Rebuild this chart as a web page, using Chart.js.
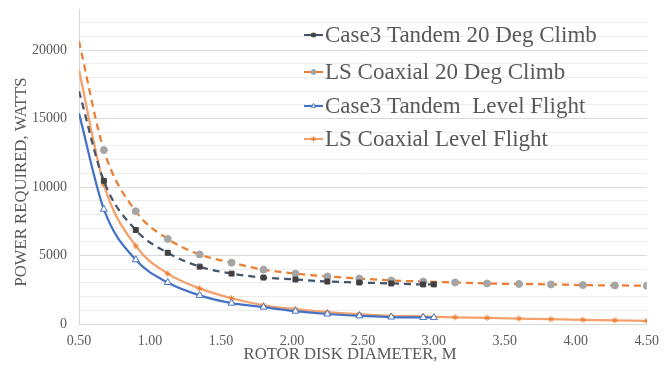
<!DOCTYPE html>
<html>
<head>
<meta charset="utf-8">
<script src="https://cdn.jsdelivr.net/npm/chart.js@4/dist/chart.umd.min.js"></script>
<style>
  html, body { margin: 0; padding: 0; background: #ffffff; }
  #wrap { width: 668px; height: 369px; position: relative; }
</style>
</head>
<body>
<div id="wrap"><canvas id="powerCanvas" width="668" height="369"></canvas></div>
<script>
// rotor disk diameters (m)
const diamTandem = [0.5, 0.675, 0.9, 1.125, 1.35, 1.575, 1.8, 2.025, 2.25, 2.475, 2.7, 2.925, 3.0];
const diamCoaxial = [0.5, 0.675, 0.9, 1.125, 1.35, 1.575, 1.8, 2.025, 2.25, 2.475, 2.7, 2.925, 3.15, 3.375, 3.6, 3.825, 4.05, 4.275, 4.5];

// power required (W)
const tandemClimb = [17000, 10450, 6860, 5200, 4190, 3680, 3390, 3250, 3100, 3030, 2960, 2890, 2890];
const coaxialClimb = [20650, 12700, 8230, 6210, 5080, 4480, 3970, 3680, 3470, 3320, 3180, 3100, 3030, 2960, 2920, 2890, 2840, 2820, 2790];
const tandemLevel = [15380, 8380, 4690, 3030, 2090, 1520, 1230, 940, 730, 590, 510, 480, 470];
const coaxialLevel = [18550, 10200, 5700, 3680, 2600, 1880, 1370, 1080, 870, 720, 600, 550, 490, 450, 400, 350, 310, 270, 230];

const yLabelValues = [0, 5000, 10000, 15000, 20000];

const seriesNames = ['Case3 Tandem 20 Deg Climb', 'LS Coaxial 20 Deg Climb', 'Case3 Tandem  Level Flight', 'LS Coaxial Level Flight'];

const FONT = "'Liberation Serif', 'Times New Roman', serif";
const TEXT_COLOR = '#595959';

function toPoints(xs, ys) {
    return xs.map((x, i) => ({x: x, y: ys[i]}));
}

function isMajor(v) {
    return yLabelValues.indexOf(Math.round(v)) !== -1;
}

// no marker on the curve start at the axis edge
function markerSize(r) {
    return ctx => (ctx.dataIndex === 0 ? 0 : r);
}

// legend drawn inside the plot, line sample + marker like Excel
const insideLegend = {
    id: 'insideLegend',
    afterDraw(chart) {
        const ctx = chart.ctx;
        const rows = [35, 72, 106, 139];
        ctx.save();
        chart.data.datasets.forEach((ds, i) => {
            const y = rows[i];
            ctx.beginPath();
            ctx.setLineDash([]);
            ctx.strokeStyle = ds.borderColor;
            ctx.lineWidth = 2;
            ctx.moveTo(304, y);
            ctx.lineTo(323, y);
            ctx.stroke();
            ctx.fillStyle = ds.pointBackgroundColor;
            ctx.strokeStyle = ds.pointBorderColor;
            ctx.lineWidth = 1;
            Chart.helpers.drawPoint(ctx, {pointStyle: ds.pointStyle, radius: 2.5, rotation: 0, borderWidth: 1}, 313.5, y);
            ctx.fillStyle = TEXT_COLOR;
            ctx.font = "23px " + FONT;
            ctx.textAlign = 'left';
            ctx.textBaseline = 'middle';
            ctx.fillText(ds.label, 325, y + 1);
        });

        // axis titles
        ctx.font = "16.7px " + FONT;
        ctx.fillStyle = TEXT_COLOR;
        ctx.textAlign = 'center';
        ctx.textBaseline = 'middle';
        ctx.fillText('ROTOR DISK DIAMETER, M', 350, 355);
        ctx.translate(22, 182);
        ctx.rotate(-Math.PI / 2);
        ctx.fillText('POWER REQUIRED, WATTS', 0, 0);
        ctx.restore();
    }
};

const commonLine = {
    showLine: true,
    cubicInterpolationMode: 'monotone',
    borderWidth: 2.25,
    pointBorderWidth: 1
};

let myChart = new Chart(document.getElementById("powerCanvas").getContext("2d"), {
    type: 'scatter',
    data: {
        datasets: [
            Object.assign({}, commonLine, {
                label: seriesNames[0],
                data: toPoints(diamTandem, tandemClimb),
                borderColor: '#44546A',
                borderDash: [7, 5],
                pointStyle: 'rect',
                pointRadius: markerSize(3.5),
                pointBackgroundColor: '#404040',
                pointBorderColor: '#404040'
            }),
            Object.assign({}, commonLine, {
                label: seriesNames[1],
                data: toPoints(diamCoaxial, coaxialClimb),
                borderColor: '#ED7D31',
                borderDash: [7, 5],
                pointStyle: 'circle',
                pointRadius: markerSize(3.5),
                pointBackgroundColor: '#A5A5A5',
                pointBorderColor: '#A5A5A5'
            }),
            Object.assign({}, commonLine, {
                label: seriesNames[2],
                data: toPoints(diamTandem, tandemLevel),
                borderColor: '#4472C4',
                pointStyle: 'triangle',
                pointRadius: markerSize(4),
                pointBackgroundColor: '#ffffff',
                pointBorderColor: '#4472C4'
            }),
            Object.assign({}, commonLine, {
                label: seriesNames[3],
                data: toPoints(diamCoaxial, coaxialLevel),
                borderColor: '#F4A06A',
                pointStyle: 'star',
                pointRadius: markerSize(3),
                pointBackgroundColor: '#ED7D31',
                pointBorderColor: '#ED7D31'
            })
        ]
    },
    options: {
        responsive: false,
        animation: false,
        layout: {
            padding: {top: 9, right: 20, left: 0, bottom: 0}
        },
        plugins: {
            legend: {display: false},
            tooltip: {enabled: false}
        },
        scales: {
            x: {
                type: 'linear',
                min: 0.5,
                max: 4.5,
                afterFit: scale => { scale.height = 45; },
                ticks: {
                    stepSize: 0.5,
                    padding: 9,
                    color: TEXT_COLOR,
                    font: {family: FONT, size: 14},
                    maxRotation: 0,
                    callback: value => value.toFixed(2)
                },
                grid: {drawOnChartArea: false, drawTicks: false},
                border: {color: '#d9d9d9'}
            },
            y: {
                type: 'linear',
                min: 0,
                max: 23000,
                afterFit: scale => {
                    scale.width = 79;
                    scale.paddingTop = 0;
                    scale.paddingBottom = 0;
                },
                ticks: {
                    stepSize: 1000,
                    autoSkip: false,
                    padding: 12,
                    color: TEXT_COLOR,
                    font: {family: FONT, size: 14, lineHeight: 0.7},
                    callback: value => (isMajor(value) ? String(Math.round(value)) : '')
                },
                grid: {
                    drawTicks: false,
                    color: ctx => (ctx.tick && ctx.tick.value < 22500 ? (isMajor(ctx.tick.value) ? '#d9d9d9' : '#ededed') : 'rgba(0,0,0,0)')
                },
                border: {color: '#d9d9d9'}
            }
        }
    },
    plugins: [insideLegend]
});
</script>
</body>
</html>
